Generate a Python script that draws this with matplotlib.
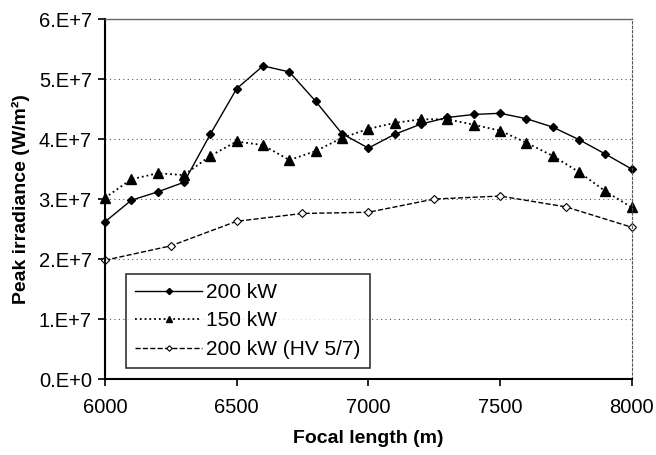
import matplotlib
matplotlib.use("Agg")
import matplotlib.pyplot as plt
from matplotlib.ticker import FuncFormatter

plt.rcParams['font.family'] = ['Liberation Sans', 'DejaVu Sans']

# focal lengths (m)
focal = [6000, 6100, 6200, 6300, 6400, 6500, 6600, 6700, 6800, 6900, 7000,
         7100, 7200, 7300, 7400, 7500, 7600, 7700, 7800, 7900, 8000]
focal_hv = [6000, 6250, 6500, 6750, 7000, 7250, 7500, 7750, 8000]

# peak irradiance (W/m2)
p200 = [2.62e7, 2.98e7, 3.12e7, 3.28e7, 4.08e7, 4.84e7, 5.22e7, 5.12e7, 4.63e7,
        4.09e7, 3.85e7, 4.08e7, 4.25e7, 4.36e7, 4.41e7, 4.43e7, 4.34e7, 4.20e7,
        3.99e7, 3.75e7, 3.50e7]
p150 = [3.02e7, 3.33e7, 3.43e7, 3.40e7, 3.72e7, 3.96e7, 3.90e7, 3.65e7, 3.80e7,
        4.02e7, 4.17e7, 4.27e7, 4.33e7, 4.33e7, 4.24e7, 4.14e7, 3.94e7, 3.72e7,
        3.45e7, 3.13e7, 2.86e7]
p200_hv = [1.98e7, 2.22e7, 2.63e7, 2.76e7, 2.78e7, 3.00e7, 3.05e7, 2.87e7, 2.53e7]

labels = ['200 kW', '150 kW', '200 kW (HV 5/7)']

fig = plt.figure(figsize=(6.56, 4.55), dpi=100)
ax = fig.add_axes([0.160, 0.167, 0.803, 0.791])

ax.plot(focal, p200, '-', color='black', lw=1.0, marker='D', ms=4.5,
        label=labels[0], clip_on=False)
ax.plot(focal, p150, ':', color='black', lw=1.3, marker='^', ms=6.5,
        label=labels[1], clip_on=False)
ax.plot(focal_hv, p200_hv, '--', color='black', lw=1.0, marker='D', ms=4,
        mfc='white', mec='black', mew=0.8, label=labels[2], clip_on=False)

ax.set_xlim(6000, 8000)
ax.set_ylim(0, 6e7)
ax.set_xticks([6000, 6500, 7000, 7500, 8000])
ax.set_yticks([i * 1e7 for i in range(7)])
ax.yaxis.set_major_formatter(FuncFormatter(
    lambda v, p: '0.E+0' if v == 0 else f'{v / 1e7:.0f}.E+7'))

ax.grid(axis='y', color='#555555', ls=(0, (1, 3)), lw=0.8)
ax.set_axisbelow(True)

ax.spines['left'].set_linewidth(1.5)
ax.spines['bottom'].set_linewidth(1.5)
ax.spines['top'].set_color('#666666')
ax.spines['top'].set_linewidth(1.0)
ax.spines['right'].set_color('#555555')
ax.spines['right'].set_linestyle((0, (2, 2)))
ax.spines['right'].set_linewidth(0.8)

ax.tick_params(axis='both', direction='out', length=5, width=1.2,
               labelsize=14.5, pad=4.5)
ax.tick_params(axis='x', pad=9)

ax.set_xlabel('Focal length (m)', fontsize=14, fontweight='bold', labelpad=9)
ax.set_ylabel('Peak irradiance (W/m²)', fontsize=14, fontweight='bold',
              labelpad=6)

leg = ax.legend(loc='lower left', bbox_to_anchor=(0.04, 0.03), borderaxespad=0,
                fontsize=15, frameon=True, fancybox=False, edgecolor='black',
                handlelength=3.2, handletextpad=0.2, labelspacing=0.45,
                borderpad=0.45, markerscale=0.7)
leg.get_frame().set_linewidth(1.2)

fig.savefig('out.png', dpi=100)
